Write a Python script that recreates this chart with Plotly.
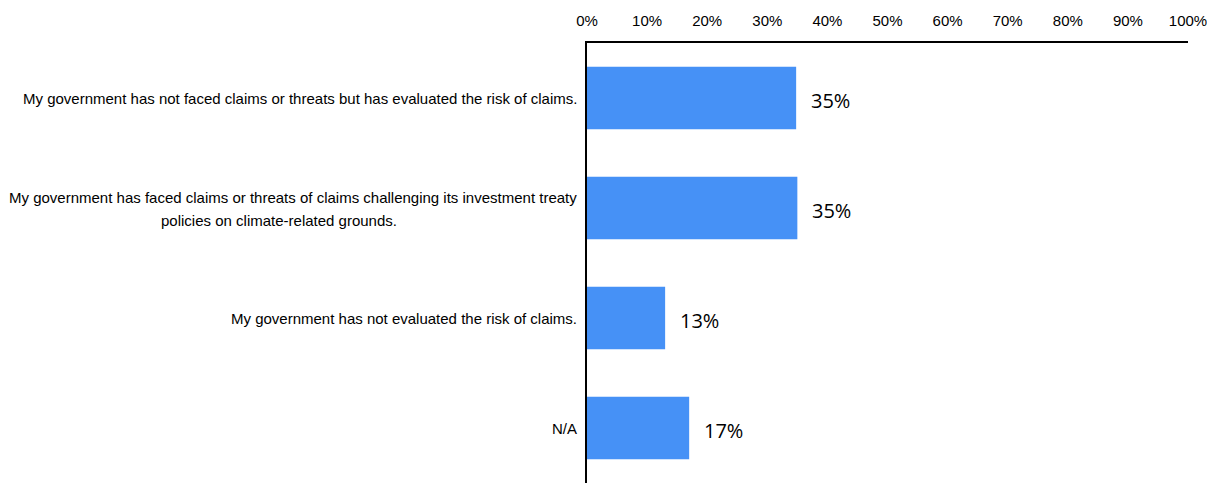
import plotly.graph_objects as go

categories = [
    "My government has not faced claims or threats but has evaluated the risk of claims.",
    "My government has faced claims or threats of claims challenging its investment treaty<br>policies on climate-related grounds.",
    "My government has not evaluated the risk of claims.",
    "N/A",
]
values = [34.8, 35.0, 13.0, 17.0]
value_labels = ["35%", "35%", "13%", "17%"]
tick_vals = [0, 10, 20, 30, 40, 50, 60, 70, 80, 90, 100]
tick_text = ["0%", "10%", "20%", "30%", "40%", "50%", "60%", "70%", "80%", "90%", "100%"]

LABEL_FONT = "Liberation Sans, Arial, sans-serif"

fig = go.Figure()
fig.add_trace(go.Bar(
    x=values, y=categories, orientation="h",
    marker=dict(color="#4691F6", line=dict(width=0)),
    hoverinfo="skip",
))

for v, c, t in zip(values, categories, value_labels):
    fig.add_annotation(x=v, y=c, text=t, showarrow=False, xanchor="left",
                       xshift=13, yshift=-2,
                       font=dict(family="Open Sans, sans-serif", size=20, color="#000000"))

# category labels (multi-line label: first line right-aligned, next lines centred)
for c in categories:
    lines = c.split("<br>")
    n = len(lines)
    for i, ln in enumerate(lines):
        first = (i == 0)
        fig.add_annotation(x=0, xref="paper", y=c, yref="y", text=ln, showarrow=False,
                           xanchor="right" if first else "center",
                           xshift=-8 if first else -308,
                           yshift=(n - 1) * 11.5 - i * 23 - (1 if n > 1 else 0),
                           font=dict(family=LABEL_FONT, size=15, color="#000000"))

# page body has an 8px margin, so the figure is drawn 8px smaller and shifted
fig.update_layout(
    width=1207, height=475,
    margin=dict(l=579, r=27, t=35, b=0),
    paper_bgcolor="white", plot_bgcolor="white",
    bargap=0.43,
    showlegend=False,
    font=dict(family=LABEL_FONT, size=15, color="#000000"),
)
fig.update_xaxes(
    range=[0, 100], side="top", tickvals=tick_vals, ticktext=tick_text,
    showgrid=False, zeroline=False, showline=True, linecolor="#000000", linewidth=2,
    ticks="", ticklabelstandoff=9, tickfont=dict(size=15), automargin=False,
)
fig.update_yaxes(
    autorange="reversed", showgrid=False, zeroline=False,
    showline=True, linecolor="#000000", linewidth=2,
    ticks="", showticklabels=False, automargin=False,
)

fig.write_html("out.html")
